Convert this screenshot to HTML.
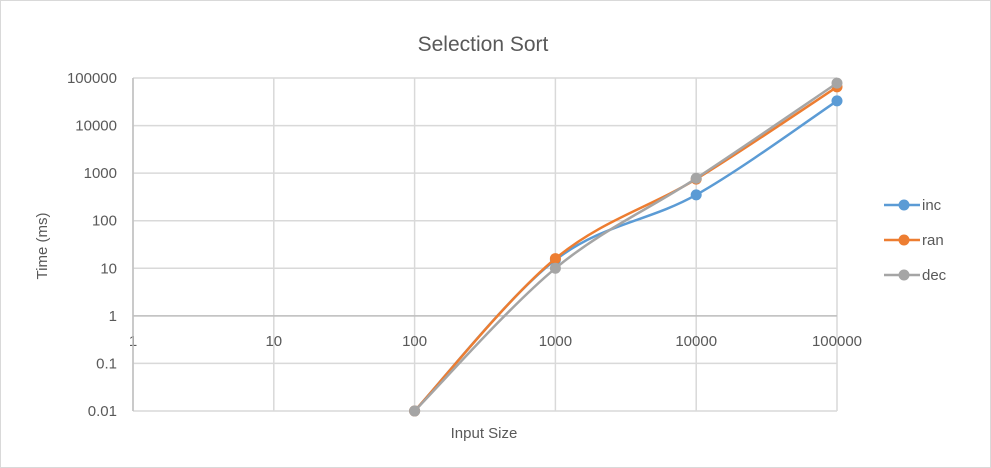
<!DOCTYPE html>
<html><head><meta charset="utf-8"><style>
body{margin:0;background:#fff;}
svg{display:block;font-family:"Liberation Sans",Calibri,sans-serif;}
</style></head><body>
<svg id="chart" width="991" height="468">
<rect x="0.5" y="0.5" width="990" height="467" fill="#fff" stroke="#d9d9d9"/>
<text x="483" y="51" font-size="21" fill="#595959" text-anchor="middle">Selection Sort</text>
<g id="grid"></g><g id="axes"></g><g id="series"></g>
<text x="484" y="438" font-size="15" fill="#595959" text-anchor="middle">Input Size</text>
<text transform="translate(47,246) rotate(-90)" font-size="15" fill="#595959" text-anchor="middle">Time (ms)</text>
<g id="legend"></g>
</svg>
<script>
const xCats=[100,1000,10000,100000];
const incVals=[0.01,15,350,33000];
const ranVals=[0.01,16,750,65000];
const decVals=[0.01,10,780,78000];
const xTicks=["1","10","100","1000","10000","100000"];
const yTicks=["0.01","0.1","1","10","100","1000","10000","100000"];
const names=["inc","ran","dec"];
const colors=["#5b9bd5","#ed7d31","#a5a5a5"];
const NS="http://www.w3.org/2000/svg";
const X0=133,X1=837,Y0=411,Y1=78;
function xs(v){return X0+(Math.log10(v)-0)/5*(X1-X0);}
function ys(v){return Y0-(Math.log10(v)+2)/7*(Y0-Y1);}
function mk(t,a,p){const e=document.createElementNS(NS,t);for(const k in a)e.setAttribute(k,a[k]);p.appendChild(e);return e;}
const grid=document.getElementById('grid'),axes=document.getElementById('axes');
xTicks.forEach((t,i)=>{const x=xs(+t);
 const l=mk('line',{x1:x,x2:x,y1:Y1,y2:Y0,stroke:'#d9d9d9','stroke-width':1.5},grid);
 
 const tx=mk('text',{x:x,y:346,'font-size':15,fill:'#595959','text-anchor':'middle'},axes);tx.textContent=t;
 });
yTicks.forEach((t,i)=>{const y=ys(+t);
 const l=mk('line',{x1:X0,x2:X1,y1:y,y2:y,stroke:'#d9d9d9','stroke-width':1.5},grid);
 
 const tx=mk('text',{x:117,y:y+5,'font-size':15,fill:'#595959','text-anchor':'end'},axes);tx.textContent=t;
 });
const ax=mk('line',{x1:X0,x2:X1,y1:ys(1),y2:ys(1),stroke:'#bfbfbf','stroke-width':1.5},axes);

const ay=mk('line',{x1:X0,x2:X0,y1:Y1,y2:Y0,stroke:'#bfbfbf','stroke-width':1.5},axes);

function smooth(pts){let d=`M${pts[0][0]},${pts[0][1]}`;
 for(let i=0;i<pts.length-1;i++){const p0=pts[Math.max(i-1,0)],p1=pts[i],p2=pts[i+1],p3=pts[Math.min(i+2,pts.length-1)];
  const t=1/6;d+=` C${p1[0]+(p2[0]-p0[0])*t},${p1[1]+(p2[1]-p0[1])*t} ${p2[0]-(p3[0]-p1[0])*t},${p2[1]-(p3[1]-p1[1])*t} ${p2[0]},${p2[1]}`;}
 return d;}
const sg=document.getElementById('series');
[incVals,ranVals,decVals].forEach((vals,s)=>{
 const pts=xCats.map((c,i)=>[xs(c),ys(vals[i])]);
 const p=mk('path',{d:smooth(pts),fill:'none',stroke:colors[s],'stroke-width':2.5},sg);
 
 pts.forEach(q=>{const c=mk('circle',{cx:q[0],cy:q[1],r:5.5,fill:colors[s]},sg);
  });
});
const lg=document.getElementById('legend');
names.forEach((n,i)=>{const y=205+i*35;
 const l=mk('line',{x1:884,x2:920,y1:y,y2:y,stroke:colors[i],'stroke-width':2.5},lg);
 
 const c=mk('circle',{cx:904,cy:y,r:5.5,fill:colors[i]},lg);
 
 const t=mk('text',{x:922,y:y+5,'font-size':15,fill:'#595959'},lg);t.textContent=n;
 });
</script>
</body></html>
